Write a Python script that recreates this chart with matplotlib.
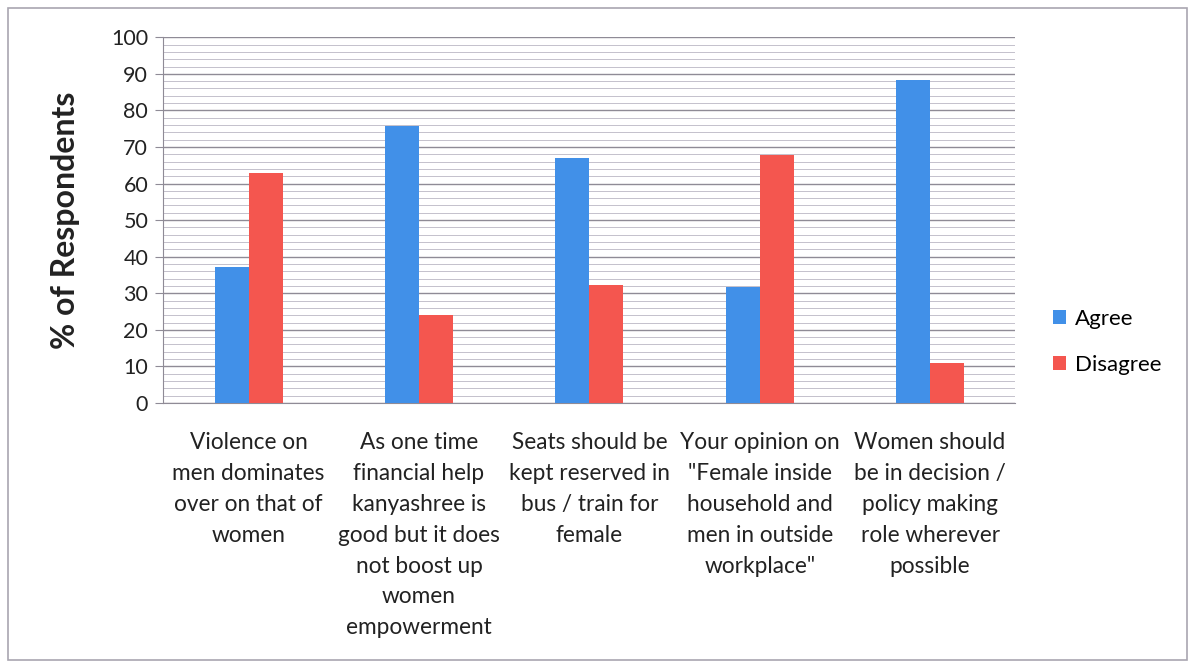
import numpy as np
import matplotlib
matplotlib.use("Agg")
from matplotlib import pyplot as plt
from matplotlib.patches import Rectangle
from matplotlib.ticker import MultipleLocator

# datos
categorias = [
    "Violence on\nmen dominates\nover on that of\nwomen",
    "As one time\nfinancial help\nkanyashree is\ngood but it does\nnot boost up\nwomen\nempowerment",
    "Seats should be\nkept reserved in\nbus / train for\nfemale",
    "Your opinion on\n\"Female inside\nhousehold and\nmen in outside\nworkplace\"",
    "Women should\nbe in decision /\npolicy making\nrole wherever\npossible",
]
agree = [37.2, 75.7, 67.1, 31.8, 88.2]
disagree = [62.8, 24.0, 32.3, 67.7, 10.8]

plt.rcParams['font.family'] = ['Lato', 'DejaVu Sans']

fig = plt.figure(figsize=(11.93, 6.65), dpi=100)
ax = fig.add_axes([0.137, 0.394, 0.714, 0.550])

x = np.arange(len(categorias))
ancho = 0.2
ax.bar(x - ancho / 2, agree, ancho, color='#4190E8', label='Agree', zorder=3)
ax.bar(x + ancho / 2, disagree, ancho, color='#F4564F', label='Disagree', zorder=3)

ax.set_xlim(-0.5, len(categorias) - 0.5)
ax.set_ylim(0, 100)
ax.yaxis.set_major_locator(MultipleLocator(10))
ax.yaxis.set_minor_locator(MultipleLocator(2))
ax.grid(axis='y', which='major', color='#8f8b96', linewidth=1.0, zorder=0)
ax.grid(axis='y', which='minor', color='#c4c1cc', linewidth=0.7, zorder=0)

ax.set_xticks(x)
ax.set_xticklabels(categorias, fontsize=16.3, color='#222222', linespacing=1.58)
ax.tick_params(axis='x', length=0, pad=21)
ax.tick_params(axis='y', which='major', length=6, color='#8f8b96', labelsize=15.5, pad=5)
ax.tick_params(axis='y', which='minor', length=0)
for lbl in ax.get_yticklabels():
    lbl.set_color('#222222')

for lado in ['top', 'right']:
    ax.spines[lado].set_visible(False)
ax.spines['left'].set_color('#8f8b96')
ax.spines['bottom'].set_color('#8f8b96')

ax.set_ylabel('% of Respondents', fontsize=23, fontweight='bold', color='#222222', labelpad=22)

fig.legend(loc='center left', bbox_to_anchor=(0.866, 0.486), frameon=False,
           fontsize=16, handlelength=0.6, handleheight=0.6, labelspacing=1.15, handletextpad=0.4)

# marco de la figura
fig.patches.append(Rectangle((0.007, 0.008), 0.988, 0.98, transform=fig.transFigure,
                             fill=False, edgecolor='#a9a6b0', linewidth=1.2))

fig.savefig('out.png', dpi=100)
